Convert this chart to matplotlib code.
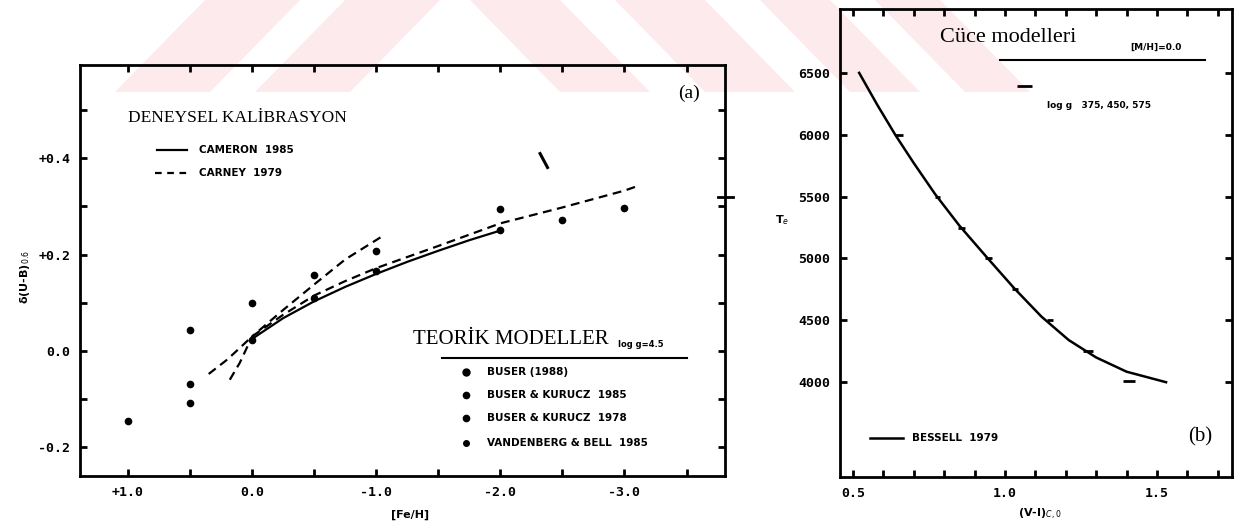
import matplotlib.pyplot as plt
import matplotlib.patches as mpatches
import numpy as np

# panel (a): delta(U-B) against [Fe/H]
feh_ticks = [1.0, 0.0, -1.0, -2.0, -3.0]
feh_labels = ["+1.0", "0.0", "-1.0", "-2.0", "-3.0"]
dub_ticks = [0.4, 0.2, 0.0, -0.2]
dub_labels = ["+0.4", "+0.2", "0.0", "-0.2"]

cameron_feh = [0.0, -0.25, -0.5, -0.75, -1.0, -1.25, -1.5, -1.75, -2.0]
cameron_dub = [0.025, 0.068, 0.103, 0.133, 0.16, 0.185, 0.208, 0.23, 0.25]

carney_feh = [0.35, 0.2, 0.0, -0.25, -0.5, -0.75, -1.0, -1.5, -2.0, -2.5, -3.0, -3.1]
carney_dub = [-0.048, -0.018, 0.03, 0.075, 0.115, 0.145, 0.172, 0.218, 0.265, 0.298, 0.333, 0.342]

carney2_feh = [0.18, 0.1, 0.0, -0.25, -0.5, -0.75, -1.06]
carney2_dub = [-0.06, -0.025, 0.03, 0.085, 0.138, 0.19, 0.24]

model_feh = [1.0, 0.5, 0.5, 0.5, 0.0, 0.0, -0.5, -0.5, -1.0, -1.0, -2.0, -2.0, -2.5, -3.0]
model_dub = [-0.146, 0.044, -0.069, -0.108, 0.10, 0.022, 0.158, 0.11, 0.208, 0.165, 0.295, 0.252, 0.272, 0.297]

model_names = ["BUSER (1988)", "BUSER & KURUCZ  1985", "BUSER & KURUCZ  1978", "VANDENBERG & BELL  1985"]

# stray marks in the scan
stroke_feh = [-2.32, -2.38]
stroke_dub = [0.41, 0.381]

# panel (b): Teff against (V-I)
vi_ticks = [0.5, 1.0, 1.5]
vi_labels = ["0.5", "1.0", "1.5"]
teff_ticks = [4000, 4500, 5000, 5500, 6000, 6500]

bessell_vi = [0.52, 0.58, 0.64, 0.70, 0.77, 0.85, 0.94, 1.03, 1.12, 1.21, 1.30, 1.40, 1.53]
bessell_teff = [6500, 6240, 5995, 5770, 5520, 5265, 5010, 4760, 4530, 4340, 4200, 4085, 4000]

mod_teff = [6000, 5500, 5250, 5000, 4750, 4500, 4250, 4010]
mod_vi_lo = [0.638, 0.77, 0.845, 0.934, 1.023, 1.138, 1.257, 1.388]
mod_vi_hi = [0.664, 0.786, 0.868, 0.957, 1.043, 1.158, 1.29, 1.428]

key_teff = [6395]
key_vi_lo = [1.04]
key_vi_hi = [1.09]


W, H = 1242, 526
fig = plt.figure(figsize=(W / 100, H / 100), dpi=100)
fig.patch.set_facecolor("white")

# pale watermark stripes along the top
pink = "#fdeaec"
band_bottom = 92
for x0, x1 in [(205, 300), (345, 440)]:
    pts = [(x0, 0), (x1, 0), (x1 - 90, band_bottom), (x0 - 90, band_bottom)]
    fig.patches.append(mpatches.Polygon([(x / W, 1 - y / H) for x, y in pts],
                                        closed=True, transform=fig.transFigure,
                                        facecolor=pink, edgecolor="none", zorder=-5))
for x0, x1 in [(470, 560), (615, 705), (760, 830), (875, 940)]:
    pts = [(x0, 0), (x1, 0), (x1 + 90, band_bottom), (x0 + 90, band_bottom)]
    fig.patches.append(mpatches.Polygon([(x / W, 1 - y / H) for x, y in pts],
                                        closed=True, transform=fig.transFigure,
                                        facecolor=pink, edgecolor="none", zorder=-5))

mono = {"family": "DejaVu Sans Mono", "weight": "bold", "size": 9.5}
small = {"family": "DejaVu Sans", "weight": "bold", "size": 7.5}
serif = "Liberation Serif"


def style_axes(ax):
    ax.set_facecolor("none")
    for sp in ax.spines.values():
        sp.set_linewidth(2.0)
    ax.tick_params(which="both", direction="in", top=True, right=True,
                   length=5, width=2, pad=7)
    for lab in ax.get_xticklabels() + ax.get_yticklabels():
        lab.set_fontfamily(mono["family"])
        lab.set_fontweight("bold")
        lab.set_fontsize(mono["size"])


# ---------------- panel (a)
ax1 = fig.add_axes([80 / W, 1 - 476 / H, 645 / W, 411 / H])
ax1.set_xlim(1.387, -3.81)
ax1.set_ylim(-0.26, 0.594)

ax1.plot(cameron_feh, cameron_dub, color="black", lw=1.6)
ax1.plot(carney_feh, carney_dub, color="black", lw=1.6, dashes=(4, 2.5))
ax1.plot(carney2_feh, carney2_dub, color="black", lw=1.6, dashes=(4, 2.5))
ax1.plot(model_feh, model_dub, "o", color="black", ms=4.5)
ax1.plot(stroke_feh, stroke_dub, color="black", lw=2.2)

ax1.set_xticks(feh_ticks)
ax1.set_xticklabels(feh_labels)
ax1.set_xticks(np.arange(1.0, -3.6, -0.5), minor=True)
ax1.set_yticks(dub_ticks)
ax1.set_yticklabels(dub_labels)
ax1.set_yticks(np.arange(-0.2, 0.55, 0.1), minor=True)
style_axes(ax1)

# small break mark on the right frame
ax1.plot([0.989, 1.012], [0.679, 0.679], color="black", lw=2, transform=ax1.transAxes,
         clip_on=False)

ax1.text(-0.085, 0.484, "δ(U-B)$_{0.6}$", transform=ax1.transAxes, rotation=90,
         ha="center", va="center", fontsize=8, fontweight="bold")
ax1.text(0.512, -0.095, "[Fe/H]", transform=ax1.transAxes, ha="center", va="center",
         fontsize=8, fontweight="bold")

ax1.text(0.0744, 0.871, "DENEYSEL KALİBRASYON", transform=ax1.transAxes,
         family=serif, fontsize=12.5, ha="left", va="center")
ax1.plot([0.119, 0.166], [0.793, 0.793], color="black", lw=1.6, transform=ax1.transAxes)
ax1.plot([0.116, 0.166], [0.737, 0.737], color="black", lw=1.6, dashes=(3, 2.5),
         transform=ax1.transAxes)
ax1.text(0.184, 0.793, "CAMERON  1985", transform=ax1.transAxes, va="center", **small)
ax1.text(0.184, 0.737, "CARNEY  1979", transform=ax1.transAxes, va="center", **small)

ax1.text(0.944, 0.932, "(a)", transform=ax1.transAxes, family=serif, fontsize=14,
         ha="center", va="center")

ax1.text(0.516, 0.331, "TEORİK MODELLER", transform=ax1.transAxes, family=serif,
         fontsize=15, ha="left", va="center")
ax1.text(0.834, 0.319, "log g=4.5", transform=ax1.transAxes, ha="left", va="center",
         family="DejaVu Sans", weight="bold", size=6)
ax1.plot([0.561, 0.941], [0.287, 0.287], color="black", lw=1.5, transform=ax1.transAxes)
rows = [0.253, 0.197, 0.141, 0.080]
for r, name, ms in zip(rows, model_names, [5, 4.5, 4.5, 4]):
    ax1.plot([0.598], [r], "o", color="black", ms=ms, transform=ax1.transAxes)
    ax1.text(0.631, r, name, transform=ax1.transAxes, va="center", **small)

# ---------------- panel (b)
ax2 = fig.add_axes([840 / W, 1 - 477 / H, 392 / W, 468 / H])
ax2.set_xlim(0.457, 1.747)
ax2.set_ylim(3234, 7016)

ax2.plot(bessell_vi, bessell_teff, color="black", lw=1.8)
ax2.hlines(mod_teff, mod_vi_lo, mod_vi_hi, color="black", lw=2)
ax2.hlines(key_teff, key_vi_lo, key_vi_hi, color="black", lw=2)

ax2.set_xticks(vi_ticks)
ax2.set_xticklabels(vi_labels)
ax2.set_xticks(np.arange(0.5, 1.75, 0.1), minor=True)
ax2.set_yticks(teff_ticks)
ax2.set_yticklabels([str(t) for t in teff_ticks])
style_axes(ax2)

ax2.text(-0.148, 0.549, "T$_e$", transform=ax2.transAxes, ha="center", va="center",
         fontsize=8, fontweight="bold")
ax2.text(0.51, -0.081, "(V-I)$_{C,0}$", transform=ax2.transAxes, ha="center",
         va="center", fontsize=8, fontweight="bold")

ax2.text(0.255, 0.940, "Cüce modelleri", transform=ax2.transAxes, family=serif,
         fontsize=16, ha="left", va="center")
ax2.text(0.74, 0.917, "[M/H]=0.0", transform=ax2.transAxes, ha="left", va="center",
         family="DejaVu Sans", weight="bold", size=6.5)
ax2.plot([0.408, 0.931], [0.891, 0.891], color="black", lw=1.5, transform=ax2.transAxes)
ax2.text(0.528, 0.793, "log g   375, 450, 575", transform=ax2.transAxes, ha="left",
         va="center", family="DejaVu Sans", weight="bold", size=6.5)

ax2.text(0.918, 0.0855, "(b)", transform=ax2.transAxes, family=serif, fontsize=15,
         ha="center", va="center")
ax2.plot([0.077, 0.161], [0.083, 0.083], color="black", lw=1.8, transform=ax2.transAxes)
ax2.text(0.184, 0.083, "BESSELL  1979", transform=ax2.transAxes, va="center", **small)

fig.savefig("out.png", dpi=100)
